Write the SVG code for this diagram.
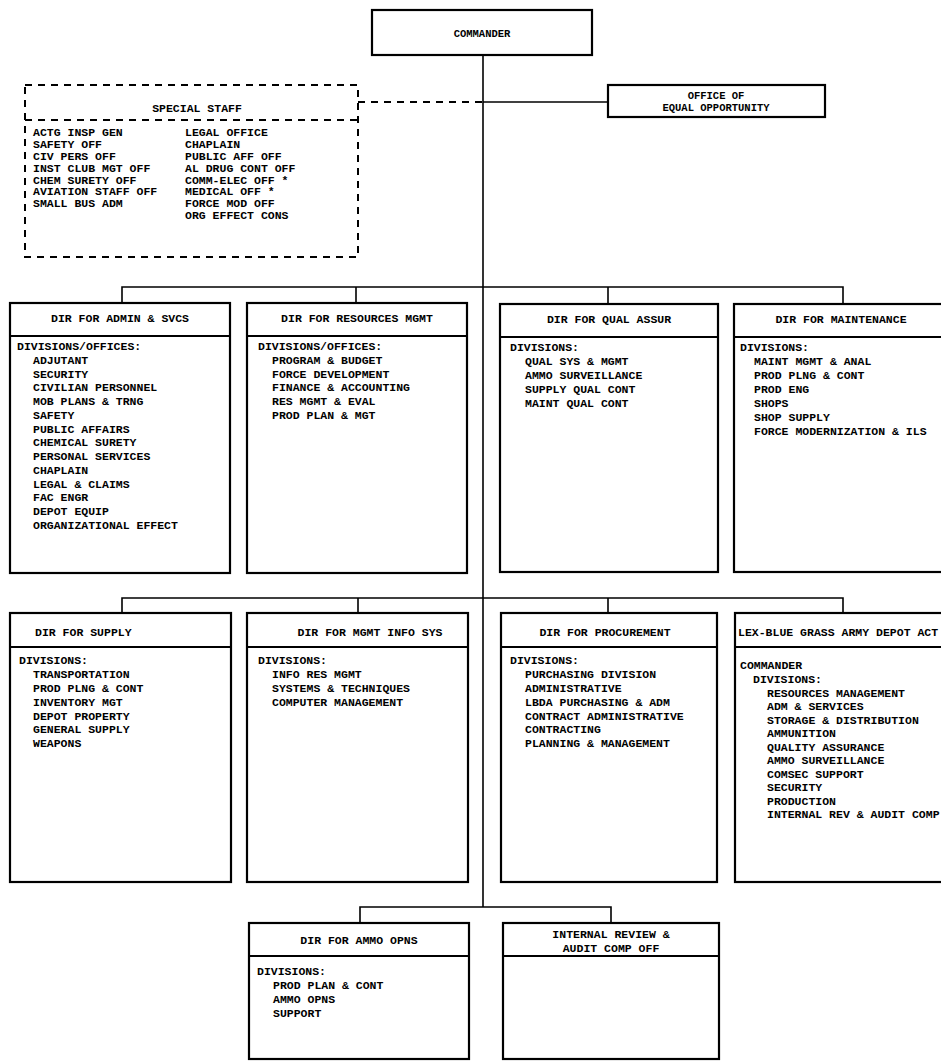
<svg xmlns="http://www.w3.org/2000/svg" width="941" height="1062" viewBox="0 0 941 1062">
<style>
.bx{fill:#fff;stroke:#000;stroke-width:2.2}
.sep{stroke:#000;stroke-width:2}
.ln{fill:none;stroke:#000;stroke-width:1.6}
.ds{fill:none;stroke:#000;stroke-width:2;stroke-dasharray:7 6}
text{font-family:"Liberation Mono","DejaVu Sans Mono",monospace;font-weight:bold;font-size:11.5px;fill:#000}
.m{text-anchor:middle}
.s{font-size:10.5px}
</style>
<rect width="941" height="1062" fill="#fff"/>
<g id="connectors">
<path class="ln" d="M483 55 V907"/>
<path class="ln" d="M483 102 H608"/>
<path class="ds" d="M358 102 H483"/>
<path class="ln" d="M122 303 V287 H843 V304 M356 287 V303 M608 287 V304"/>
<path class="ln" d="M122 613 V598 H843 V613 M358 598 V613 M608 598 V613"/>
<path class="ln" d="M360 923 V907 H611 V923"/>
</g>
<g id="commander">
<rect class="bx" x="372" y="10" width="220" height="45" stroke-width="2.6"/>
<text class="m s" x="482" y="37">COMMANDER</text>
</g>
<g id="equal-opportunity">
<rect class="bx" x="608" y="85" width="217" height="32"/>
<text class="m s" x="716" y="99">OFFICE OF</text>
<text class="m s" x="716" y="111">EQUAL OPPORTUNITY</text>
</g>
<g id="special-staff">
<rect class="ds" x="25" y="85" width="333" height="172"/>
<path class="ds" d="M25 120 H358"/>
<text class="m" x="197" y="112">SPECIAL STAFF</text>
<text x="33" y="136">ACTG INSP GEN</text>
<text x="33" y="148">SAFETY OFF</text>
<text x="33" y="160">CIV PERS OFF</text>
<text x="33" y="172">INST CLUB MGT OFF</text>
<text x="33" y="184">CHEM SURETY OFF</text>
<text x="33" y="195">AVIATION STAFF OFF</text>
<text x="33" y="207">SMALL BUS ADM</text>
<text x="185" y="136">LEGAL OFFICE</text>
<text x="185" y="148">CHAPLAIN</text>
<text x="185" y="160">PUBLIC AFF OFF</text>
<text x="185" y="172">AL DRUG CONT OFF</text>
<text x="185" y="184">COMM-ELEC OFF *</text>
<text x="185" y="195">MEDICAL OFF *</text>
<text x="185" y="207">FORCE MOD OFF</text>
<text x="185" y="219">ORG EFFECT CONS</text>
</g>
<g id="dir-admin">
<rect class="bx" x="10" y="303" width="220" height="270"/>
<path class="sep" d="M10 336 H230"/>
<text class="m" x="120" y="322">DIR FOR ADMIN &amp; SVCS</text>
<text x="17" y="350">DIVISIONS/OFFICES:</text>
<text x="33" y="363.75">ADJUTANT</text>
<text x="33" y="377.5">SECURITY</text>
<text x="33" y="391.25">CIVILIAN PERSONNEL</text>
<text x="33" y="405">MOB PLANS &amp; TRNG</text>
<text x="33" y="418.75">SAFETY</text>
<text x="33" y="432.5">PUBLIC AFFAIRS</text>
<text x="33" y="446.25">CHEMICAL SURETY</text>
<text x="33" y="460">PERSONAL SERVICES</text>
<text x="33" y="473.75">CHAPLAIN</text>
<text x="33" y="487.5">LEGAL &amp; CLAIMS</text>
<text x="33" y="501.25">FAC ENGR</text>
<text x="33" y="515">DEPOT EQUIP</text>
<text x="33" y="528.75">ORGANIZATIONAL EFFECT</text>
</g>
<g id="dir-resources">
<rect class="bx" x="247" y="303" width="220" height="270"/>
<path class="sep" d="M247 336 H467"/>
<text class="m" x="357" y="322">DIR FOR RESOURCES MGMT</text>
<text x="258" y="350">DIVISIONS/OFFICES:</text>
<text x="272" y="363.75">PROGRAM &amp; BUDGET</text>
<text x="272" y="377.5">FORCE DEVELOPMENT</text>
<text x="272" y="391.25">FINANCE &amp; ACCOUNTING</text>
<text x="272" y="405">RES MGMT &amp; EVAL</text>
<text x="272" y="418.75">PROD PLAN &amp; MGT</text>
</g>
<g id="dir-qual">
<rect class="bx" x="500" y="304" width="218" height="268"/>
<path class="sep" d="M500 337 H718"/>
<text class="m" x="609" y="323">DIR FOR QUAL ASSUR</text>
<text x="510" y="351">DIVISIONS:</text>
<text x="525" y="365">QUAL SYS &amp; MGMT</text>
<text x="525" y="379">AMMO SURVEILLANCE</text>
<text x="525" y="393">SUPPLY QUAL CONT</text>
<text x="525" y="407">MAINT QUAL CONT</text>
</g>
<g id="dir-maint">
<rect class="bx" x="734" y="304" width="230" height="268"/>
<path class="sep" d="M734 337 H964"/>
<text class="m" x="841" y="323">DIR FOR MAINTENANCE</text>
<text x="740" y="351">DIVISIONS:</text>
<text x="754" y="365">MAINT MGMT &amp; ANAL</text>
<text x="754" y="379">PROD PLNG &amp; CONT</text>
<text x="754" y="393">PROD ENG</text>
<text x="754" y="407">SHOPS</text>
<text x="754" y="421">SHOP SUPPLY</text>
<text x="754" y="435">FORCE MODERNIZATION &amp; ILS</text>
</g>
<g id="dir-supply">
<rect class="bx" x="10" y="613" width="221" height="269"/>
<path class="sep" d="M10 647 H231"/>
<text x="35" y="636">DIR FOR SUPPLY</text>
<text x="19" y="664">DIVISIONS:</text>
<text x="33" y="678">TRANSPORTATION</text>
<text x="33" y="692">PROD PLNG &amp; CONT</text>
<text x="33" y="705.5">INVENTORY MGT</text>
<text x="33" y="719.5">DEPOT PROPERTY</text>
<text x="33" y="733">GENERAL SUPPLY</text>
<text x="33" y="747">WEAPONS</text>
</g>
<g id="dir-mis">
<rect class="bx" x="247" y="613" width="221" height="269"/>
<path class="sep" d="M247 647 H468"/>
<text class="m" x="370" y="636">DIR FOR MGMT INFO SYS</text>
<text x="258" y="664">DIVISIONS:</text>
<text x="272" y="678">INFO RES MGMT</text>
<text x="272" y="692">SYSTEMS &amp; TECHNIQUES</text>
<text x="272" y="705.5">COMPUTER MANAGEMENT</text>
</g>
<g id="dir-procurement">
<rect class="bx" x="501" y="613" width="216" height="269"/>
<path class="sep" d="M501 647 H717"/>
<text class="m" x="605" y="636">DIR FOR PROCUREMENT</text>
<text x="510" y="664">DIVISIONS:</text>
<text x="525" y="678">PURCHASING DIVISION</text>
<text x="525" y="692">ADMINISTRATIVE</text>
<text x="525" y="705.5">LBDA PURCHASING &amp; ADM</text>
<text x="525" y="719.5">CONTRACT ADMINISTRATIVE</text>
<text x="525" y="733">CONTRACTING</text>
<text x="525" y="746.5">PLANNING &amp; MANAGEMENT</text>
</g>
<g id="lex-blue-grass">
<rect class="bx" x="735" y="613" width="230" height="269"/>
<path class="sep" d="M735 647 H965"/>
<text x="738" y="636">LEX-BLUE GRASS ARMY DEPOT ACT</text>
<text x="740" y="669">COMMANDER</text>
<text x="753" y="683">DIVISIONS:</text>
<text x="767" y="696.5">RESOURCES MANAGEMENT</text>
<text x="767" y="710">ADM &amp; SERVICES</text>
<text x="767" y="723.5">STORAGE &amp; DISTRIBUTION</text>
<text x="767" y="737">AMMUNITION</text>
<text x="767" y="750.5">QUALITY ASSURANCE</text>
<text x="767" y="764">AMMO SURVEILLANCE</text>
<text x="767" y="777.5">COMSEC SUPPORT</text>
<text x="767" y="791">SECURITY</text>
<text x="767" y="804.5">PRODUCTION</text>
<text x="767" y="818">INTERNAL REV &amp; AUDIT COMP</text>
</g>
<g id="dir-ammo">
<rect class="bx" x="249" y="923" width="220" height="136"/>
<path class="sep" d="M249 956 H469"/>
<text class="m" x="359" y="944">DIR FOR AMMO OPNS</text>
<text x="257" y="975">DIVISIONS:</text>
<text x="273" y="989">PROD PLAN &amp; CONT</text>
<text x="273" y="1003">AMMO OPNS</text>
<text x="273" y="1016.5">SUPPORT</text>
</g>
<g id="internal-review">
<rect class="bx" x="503" y="923" width="216" height="136"/>
<path class="sep" d="M503 956 H719"/>
<text class="m" x="611" y="938">INTERNAL REVIEW &amp;</text>
<text class="m" x="611" y="952">AUDIT COMP OFF</text>
</g>
</svg>
